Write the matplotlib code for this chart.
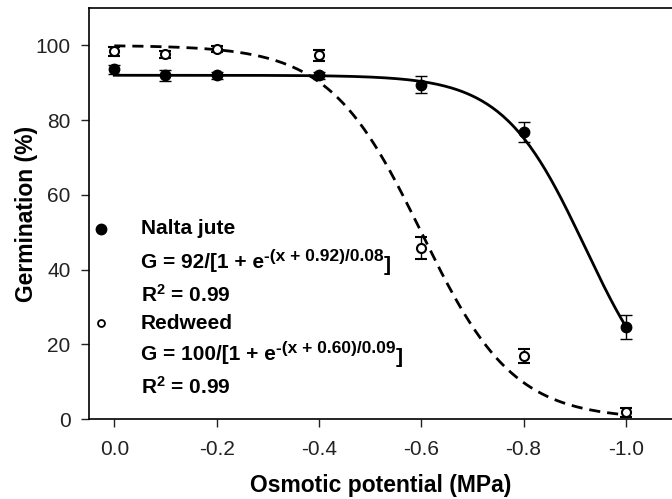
import numpy as np
import matplotlib.pyplot as plt

plt.rcParams['font.family'] = ['Liberation Sans', 'DejaVu Sans']
plt.rcParams['mathtext.default'] = 'regular'

# osmotic potential (MPa)
potential = [0.0, -0.1, -0.2, -0.4, -0.6, -0.8, -1.0]

# germination (%) and standard errors
jute = [93.6, 92.0, 92.0, 92.0, 89.5, 76.9, 24.7]
jute_err = [1.2, 1.5, 1.0, 1.0, 2.2, 2.7, 3.2]
redweed = [98.4, 97.6, 98.9, 97.3, 45.8, 16.9, 1.9]
redweed_err = [1.2, 1.0, 0.8, 1.5, 3.0, 2.0, 1.2]

# three-parameter sigmoid fits: Gmax, x50, b
jute_fit = (92, 0.92, 0.08)
redweed_fit = (100, 0.60, 0.09)


def sigmoid(x, gmax, x50, b):
    return gmax / (1 + np.exp(-(x + x50) / b))


fig = plt.figure(figsize=(6.72, 4.99), dpi=100)
ax = fig.add_axes([0.132, 0.160, 0.868, 0.824])

xs = np.linspace(0.0, -1.0, 300)
ax.plot(xs, sigmoid(xs, *jute_fit), color='black', lw=2, zorder=2)
ax.plot(xs, sigmoid(xs, *redweed_fit), color='black', lw=2, ls=(0, (4, 2.5)), zorder=2)

ax.errorbar(potential, jute, yerr=jute_err, fmt='o', color='black', ms=7.5,
            ecolor='black', elinewidth=1, capsize=4.5, capthick=1, zorder=3)
ax.errorbar(potential, redweed, yerr=redweed_err, fmt='o', mfc='white', mec='black',
            mew=1.5, ms=6.5, ecolor='black', elinewidth=1, capsize=4.5, capthick=1, zorder=3)

ax.set_xlim(0.05, -1.09)
ax.set_ylim(0, 110)
ax.set_xticks([0.0, -0.2, -0.4, -0.6, -0.8, -1.0])
ax.set_xticklabels(['0.0', '-0.2', '-0.4', '-0.6', '-0.8', '-1.0'])
ax.set_yticks([0, 20, 40, 60, 80, 100])
ax.tick_params(direction='out', length=6, width=1, labelsize=15, colors='#222222')
ax.tick_params(axis='x', pad=9)
ax.tick_params(axis='y', pad=7)
ax.spines['right'].set_visible(False)
for s in ['left', 'bottom', 'top']:
    ax.spines[s].set_linewidth(1.2)

ax.set_xlabel('Osmotic potential (MPa)', fontsize=16.5, fontweight='bold', labelpad=11)
ax.set_ylabel('Germination (%)', fontsize=16.5, fontweight='bold', labelpad=-2)

# legend with fit equations
tkw = dict(fontsize=15, fontweight='bold', va='center', ha='left')
ax.plot([0.025], [50.9], 'o', color='black', ms=7.5, clip_on=False)
ax.plot([0.025], [25.7], 'o', mfc='white', mec='black', mew=1.3, ms=5, clip_on=False)
ax.text(-0.052, 50.9, 'Nalta jute', **tkw)
ax.text(-0.052, 33.2, r'R$^{2}$ = 0.99', **tkw)
ax.text(-0.052, 25.7, 'Redweed', **tkw)
ax.text(-0.052, 8.6, r'R$^{2}$ = 0.99', **tkw)


def equation(y, base, power):
    t1 = ax.text(-0.052, y, base, **tkw)
    t2 = ax.annotate(power, xy=(1, 1), xycoords=t1, xytext=(0, 3), textcoords='offset points',
                     fontsize=12.5, fontweight='bold', ha='left', va='top')
    ax.annotate(']', xy=(1, 0), xycoords=(t2, t1), xytext=(0, -2), textcoords='offset points',
                fontsize=15, fontweight='bold', ha='left', va='bottom')


equation(41.8, 'G = 92/[1 + e', '-(x + 0.92)/0.08')
equation(17.2, 'G = 100/[1 + e', '-(x + 0.60)/0.09')

fig.savefig('out.png', dpi=100)
